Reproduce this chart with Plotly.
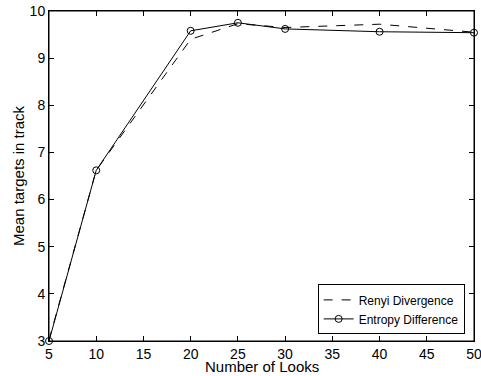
import plotly.graph_objects as go

looks = [5, 10, 20, 25, 30, 40, 50]
renyi = [3.02, 6.62, 9.40, 9.73, 9.65, 9.72, 9.55]
entropy = [3.0, 6.62, 9.58, 9.75, 9.62, 9.56, 9.54]
x_ticks = [5, 10, 15, 20, 25, 30, 35, 40, 45, 50]
y_ticks = [3, 4, 5, 6, 7, 8, 9, 10]

W, H = 481, 376
L, R, T, B = 49, 7, 11, 35

fig = go.Figure()
fig.add_trace(go.Scatter(x=looks, y=renyi, mode="lines", name="Renyi Divergence",
                         line=dict(color="black", width=1, dash="dash"), cliponaxis=True))
fig.add_trace(go.Scatter(x=looks, y=entropy, mode="lines+markers", name="Entropy Difference",
                         line=dict(color="black", width=1), cliponaxis=False,
                         marker=dict(symbol="circle-open", size=7, color="black", line=dict(width=1))))

axis_common = dict(showgrid=False, zeroline=False, showline=True, linecolor="black", linewidth=1,
                   mirror="allticks", ticks="inside", ticklen=5, tickcolor="black",
                   ticklabeloverflow="allow",
                   tickfont=dict(family="Liberation Sans, Arial", size=14, color="black"))

fig.update_layout(
    width=W, height=H,
    margin=dict(l=L, r=R, t=T, b=B, autoexpand=False),
    paper_bgcolor="white", plot_bgcolor="white",
    font=dict(family="Liberation Sans, Arial", size=13, color="black"),
    xaxis=dict(range=[5, 50], tickvals=x_ticks, ticklabelstandoff=0, **axis_common),
    yaxis=dict(range=[3, 10], tickvals=y_ticks, ticklabelstandoff=0, **axis_common),
    legend=dict(x=0.978, y=0.02, xanchor="right", yanchor="bottom",
                bordercolor="black", borderwidth=1, bgcolor="white",
                font=dict(size=12), tracegroupgap=0, itemwidth=30),
    showlegend=True,
)
fig.add_shape(type="rect", xref="paper", yref="paper", x0=0, x1=1, y0=0, y1=1,
              line=dict(color="black", width=1), layer="above")
fig.add_annotation(text="Number of Looks", xref="paper", yref="paper",
                   x=0.5, y=-(366 - (H - B)) / (H - T - B), xanchor="center", yanchor="middle",
                   showarrow=False, font=dict(size=15))
fig.add_annotation(text="Mean targets in track", xref="paper", yref="paper",
                   x=-(L - 18) / (W - L - R), y=0.5, xanchor="center", yanchor="middle",
                   textangle=-90, showarrow=False, font=dict(size=15))
fig.write_html("out.html", config={"displayModeBar": False},
               post_script="document.body.style.margin='0';document.body.style.overflow='hidden';")
